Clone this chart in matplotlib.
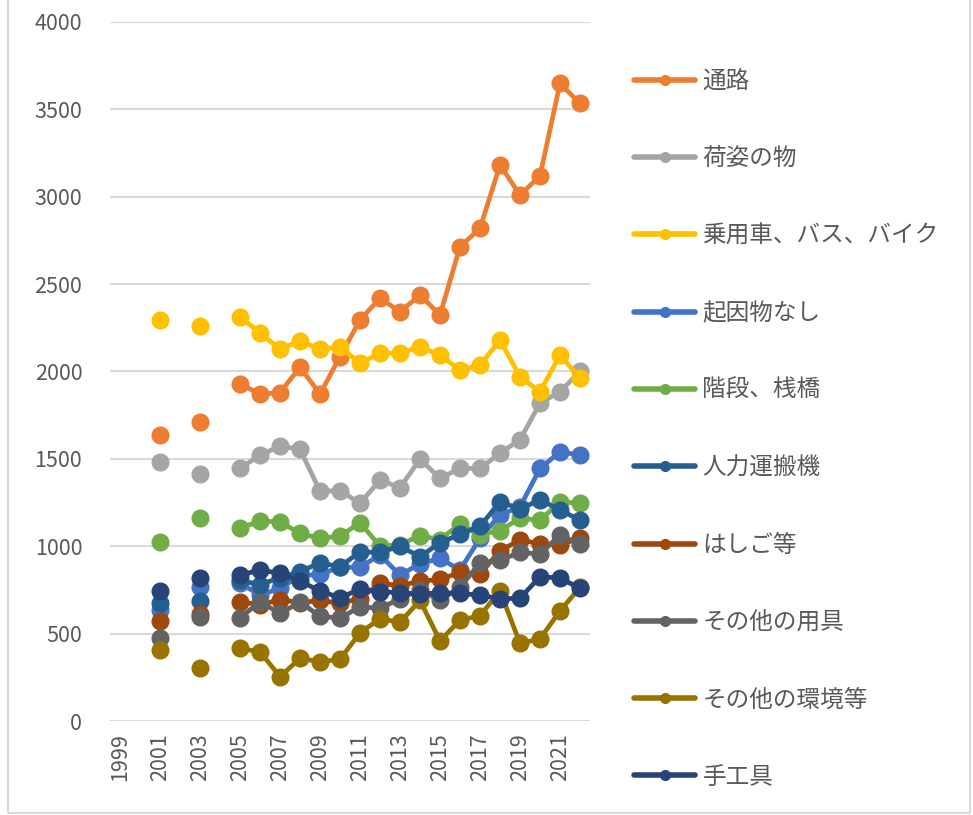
import numpy as np
import matplotlib
matplotlib.use("Agg")
import matplotlib.pyplot as plt
from matplotlib.patches import Rectangle

plt.rcParams["font.family"] = ["Noto Sans CJK JP", "DejaVu Sans"]

nan = np.nan
years = list(range(1999, 2023))
tick_years = list(range(1999, 2022, 2))
y_ticks = list(range(0, 4001, 500))

labels = [
    "通路", "荷姿の物", "乗用車、バス、バイク", "起因物なし", "階段、桟橋",
    "人力運搬機", "はしご等", "その他の用具", "その他の環境等", "手工具",
]
colors = [
    "#ED7D31", "#A5A5A5", "#FFC000", "#4472C4", "#70AD47",
    "#255E91", "#9E480E", "#636363", "#997300", "#264478",
]

tsuro = [nan, nan, 1637, nan, 1713, nan, 1928, 1871, 1879, 2025, 1871, 2085,
         2295, 2420, 2342, 2437, 2323, 2714, 2819, 3182, 3010, 3119, 3649, 3534]
nisugata = [nan, nan, 1481, nan, 1413, nan, 1446, 1522, 1573, 1555, 1315, 1318,
            1246, 1379, 1335, 1498, 1389, 1446, 1446, 1532, 1610, 1818, 1885, 2000]
jouyousha = [nan, nan, 2295, nan, 2260, nan, 2314, 2220, 2128, 2176, 2128, 2140,
             2048, 2105, 2105, 2142, 2094, 2008, 2037, 2180, 1970, 1884, 2094, 1962]
kiinbutsu_nashi = [nan, nan, 635, nan, 768, nan, 790, 720, 760, 830, 840, 880,
                   880, 950, 835, 900, 930, 865, 1045, 1180, 1225, 1445, 1540, 1522]
kaidan = [nan, nan, 1023, nan, 1162, nan, 1105, 1143, 1140, 1073, 1045, 1058,
          1135, 1000, 1010, 1060, 1038, 1128, 1066, 1090, 1160, 1148, 1255, 1246]
jinryoku = [nan, nan, 675, nan, 685, nan, 805, 780, 820, 855, 905, 883,
            968, 965, 1000, 940, 1020, 1068, 1114, 1255, 1213, 1266, 1207, 1150]
hashigo = [nan, nan, 575, nan, 614, nan, 683, 664, 695, 677, 690, 673,
           700, 788, 775, 800, 810, 850, 840, 975, 1035, 1015, 1005, 1050]
sonota_yougu = [nan, nan, 473, nan, 595, nan, 590, 683, 616, 680, 600, 588,
                654, 645, 700, 750, 690, 765, 905, 920, 965, 955, 1065, 1012]
sonota_kankyou = [nan, nan, 406, nan, 302, nan, 415, 396, 254, 358, 339, 353,
                  505, 585, 565, 690, 458, 578, 602, 745, 444, 470, 630, 765]
tekougu = [nan, nan, 743, nan, 818, nan, 835, 864, 845, 800, 745, 705,
           755, 740, 735, 725, 735, 730, 720, 700, 702, 826, 818, 759]

series = [tsuro, nisugata, jouyousha, kiinbutsu_nashi, kaidan,
          jinryoku, hashigo, sonota_yougu, sonota_kankyou, tekougu]

W, H = 973, 815
fig = plt.figure(figsize=(W / 100, H / 100), dpi=100)
ax = fig.add_axes([110 / W, 1 - 721 / H, 480 / W, 699 / H])

text_color = "#595959"
grid_color = "#D9D9D9"

for vals, lab, col in zip(series, labels, colors):
    ax.plot(years, vals, color=col, lw=3.4, marker="o", ms=12,
            solid_capstyle="round", label=lab, zorder=3)

ax.set_xlim(1998.5, 2022.5)
ax.set_ylim(0, 4000)
ax.set_yticks(y_ticks)
ax.set_xticks(tick_years)
ax.set_xticklabels([str(y) for y in tick_years], rotation=90)
ax.tick_params(axis="both", length=0, labelsize=15.5, colors=text_color)
ax.tick_params(axis="y", pad=20)
ax.tick_params(axis="x", pad=9)
ax.grid(axis="y", color=grid_color, lw=1.5, zorder=0)
for s in ax.spines.values():
    s.set_visible(False)

leg = fig.legend(loc="upper left", bbox_to_anchor=(634 / W, 1 - 70 / H),
                 frameon=False, fontsize=17, labelcolor=text_color,
                 handlelength=2.6, handletextpad=0.3, labelspacing=2.3,
                 borderaxespad=0, borderpad=0)
for h in leg.legend_handles:
    h.set_markersize(7)
    h.set_linewidth(4)

fig.patches.append(Rectangle((8 / W, 1 - 813 / H), 962 / W, 815 / H,
                             transform=fig.transFigure, fill=False,
                             edgecolor=grid_color, lw=1.5))

fig.savefig("out.png", dpi=100)
